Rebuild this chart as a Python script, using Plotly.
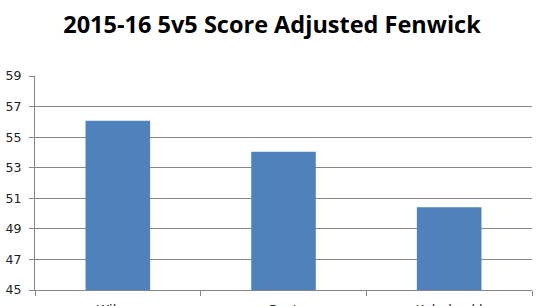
import plotly.graph_objects as go

categories = ["Wilson", "Rust", "Kuhnhackl"]
values = [56.07, 54.04, 50.42]
y_ticks = [45, 47, 49, 51, 53, 55, 57, 59]

fig = go.Figure()
fig.add_trace(go.Bar(x=categories, y=values, marker=dict(color="#4F81BD", line=dict(width=0)),
                     width=0.39))

fig.update_layout(
    width=544, height=306,
    margin=dict(l=35, r=12, t=76, b=16),
    paper_bgcolor="white", plot_bgcolor="white",
    showlegend=False,
    title=dict(text="<b>2015-16 5v5 Score Adjusted Fenwick</b>",
               x=0.5, xanchor="center", y=0.918, yanchor="middle",
               font=dict(family="Open Sans", size=23.5, color="#000000")),
    xaxis=dict(showline=True, linecolor="#868686", linewidth=1, automargin=False,
               ticks="outside", tickson="boundaries", ticklen=5, tickcolor="#868686",
               tickfont=dict(family="DejaVu Sans", size=13, color="#222222"),
               ticklabelstandoff=7,
               showgrid=False),
    yaxis=dict(range=[45, 59], tickvals=y_ticks, showline=True, linecolor="#868686",
               linewidth=1, ticks="outside", ticklen=5, tickcolor="#868686",
               showgrid=True, gridcolor="#868686", gridwidth=1,
               zeroline=False, automargin=False, ticklabelstandoff=5,
               tickfont=dict(family="DejaVu Sans", size=12.5, color="#222222")),
)

fig.write_html("out.html")
